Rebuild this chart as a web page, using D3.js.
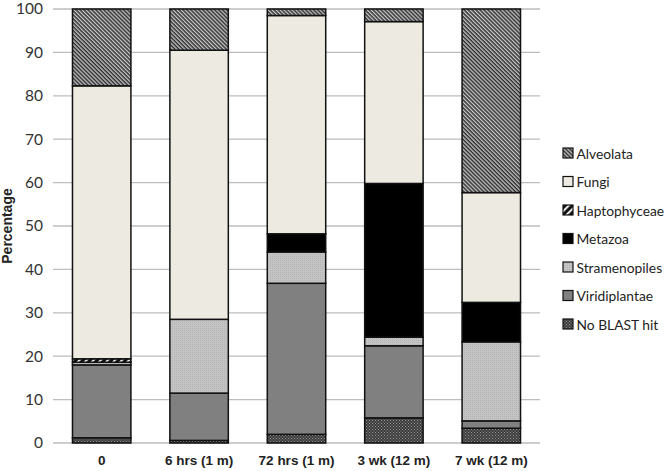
<!DOCTYPE html>
<html>
  <head>
    <meta charset="utf-8" />
    <title>Stacked percentages</title>
    <script src="https://d3js.org/d3.v7.min.js"></script>
    <style>
      body { margin: 0; background: #fff; }
    </style>
  </head>
  <body>
    <svg width="666" height="471" id="chart"></svg>
    <script>
      // sample groups on the x axis
      var categories = ["0", "6 hrs (1 m)", "72 hrs (1 m)", "3 wk (12 m)", "7 wk (12 m)"];
      // stack order, bottom to top
      var groups = ["No BLAST hit", "Viridiplantae", "Stramenopiles", "Metazoa", "Haptophyceae", "Fungi", "Alveolata"];
      // percentages per group, one value per category
      var noBlast       = [1.2, 0.6, 2.0, 5.8, 3.4];
      var viridiplantae = [16.8, 10.9, 34.8, 16.6, 1.7];
      var stramenopiles = [0.6, 17.0, 7.2, 2.0, 18.2];
      var metazoa       = [0, 0, 4.2, 35.4, 9.1];
      var haptophyceae  = [0.8, 0, 0, 0, 0];
      var fungi         = [62.9, 62.0, 50.3, 37.3, 25.3];
      var alveolata     = [17.7, 9.5, 1.5, 2.9, 42.3];
      var yTicks = [0, 10, 20, 30, 40, 50, 60, 70, 80, 90, 100];

      var seriesValues = [noBlast, viridiplantae, stramenopiles, metazoa, haptophyceae, fungi, alveolata];
      var rows = categories.map(function(c, i){
        var r = {cat: c};
        groups.forEach(function(g, j){ r[g] = seriesValues[j][i]; });
        return r;
      });

      var svg = d3.select("#chart");
      var margin = {left: 53, right: 126, top: 9, bottom: 28};
      var W = 666, H = 471;

      // fill patterns
      var defs = svg.append("defs");
      var alv = defs.append("pattern").attr("id", "p-alv").attr("width", 2.8).attr("height", 2.8)
        .attr("patternUnits", "userSpaceOnUse").attr("patternTransform", "rotate(45)");
      alv.append("rect").attr("width", 2.8).attr("height", 2.8).attr("fill", "#c8c8c8");
      alv.append("rect").attr("width", 2.8).attr("height", 1.5).attr("fill", "#303030");

      var hap = defs.append("pattern").attr("id", "p-hap").attr("width", 5).attr("height", 5)
        .attr("patternUnits", "userSpaceOnUse").attr("patternTransform", "rotate(-45)");
      hap.append("rect").attr("width", 5).attr("height", 5).attr("fill", "#111");
      hap.append("rect").attr("width", 5).attr("height", 1.8).attr("fill", "#fff");

      var nob = defs.append("pattern").attr("id", "p-nob").attr("width", 3).attr("height", 3)
        .attr("patternUnits", "userSpaceOnUse");
      nob.append("rect").attr("width", 3).attr("height", 3).attr("fill", "#3a3a3a");
      nob.append("rect").attr("width", 1).attr("height", 1).attr("fill", "#999");
      nob.append("rect").attr("x", 1.5).attr("y", 1.5).attr("width", 1).attr("height", 1).attr("fill", "#999");

      var str = defs.append("pattern").attr("id", "p-str").attr("width", 2).attr("height", 2)
        .attr("patternUnits", "userSpaceOnUse");
      str.append("rect").attr("width", 2).attr("height", 2).attr("fill", "#c4c4c4");
      str.append("rect").attr("width", 1).attr("height", 1).attr("fill", "#b4b4b4");

      var fills = {
        "Alveolata": "url(#p-alv)",
        "Fungi": "#edebe1",
        "Haptophyceae": "url(#p-hap)",
        "Metazoa": "#000",
        "Stramenopiles": "url(#p-str)",
        "Viridiplantae": "#808080",
        "No BLAST hit": "url(#p-nob)"
      };

      var x = d3.scaleBand().domain(categories)
        .range([margin.left, 540]).paddingInner(0.4).paddingOuter(0.2);
      var y = d3.scaleLinear().domain([0, 100]).range([H - margin.bottom, margin.top]);

      // gridlines
      svg.append("g").selectAll("line").data(yTicks).enter().append("line")
        .attr("x1", margin.left).attr("x2", 540)
        .attr("y1", function(d){ return y(d); }).attr("y2", function(d){ return y(d); })
        .attr("stroke", "#bdbdbd").attr("stroke-width", 1.3);

      // y axis labels
      var yAxis = d3.axisLeft(y).tickValues(yTicks).tickSize(0).tickPadding(10);
      var ya = svg.append("g").attr("transform", "translate(" + margin.left + ",0)").call(yAxis);
      ya.select(".domain").remove();
      ya.selectAll("text").attr("font-family", "Lato, sans-serif").attr("font-size", 15.5).attr("fill", "#333");

      svg.append("text")
        .attr("transform", "translate(12," + y(50) + ") rotate(-90)")
        .attr("text-anchor", "middle")
        .attr("font-family", "Liberation Sans, Arial, sans-serif")
        .attr("font-weight", "bold").attr("font-size", 14)
        .attr("fill", "#222")
        .text("Percentage");

      // bars
      var stack = d3.stack().keys(groups)(rows);
      svg.append("g").selectAll("g").data(stack).enter().append("g")
        .attr("fill", function(d){ return fills[d.key]; })
        .selectAll("rect").data(function(d){ return d; }).enter().append("rect")
        .filter(function(d){ return d[1] - d[0] > 0; })
        .attr("x", function(d){ return x(d.data.cat); })
        .attr("width", x.bandwidth())
        .attr("y", function(d){ return y(d[1]); })
        .attr("height", function(d){ return y(d[0]) - y(d[1]); })
        .attr("stroke", "#111").attr("stroke-width", 1.5);

      // x labels
      var xAxis = d3.axisBottom(x).tickSize(0).tickPadding(12);
      var xa = svg.append("g").attr("transform", "translate(0," + y(0) + ")").call(xAxis);
      xa.select(".domain").remove();
      xa.selectAll("text").attr("font-family", "Liberation Sans, Arial, sans-serif")
        .attr("font-weight", "bold").attr("font-size", 13.5).attr("fill", "#222");

      // legend, top to bottom reversed
      var legendItems = groups.slice().reverse();
      var lg = svg.append("g").selectAll("g").data(legendItems).enter().append("g")
        .attr("transform", function(d, i){ return "translate(563," + (153 + i * 28.5) + ")"; });
      lg.append("rect").attr("x", 0).attr("y", -5).attr("width", 10).attr("height", 10)
        .attr("fill", function(d){ return fills[d]; })
        .attr("stroke", "#111").attr("stroke-width", 1.2);
      lg.append("text").attr("x", 13.5).attr("y", 5.5)
        .attr("font-family", "Lato, sans-serif").attr("font-size", 13.8).attr("fill", "#222")
        .text(function(d){ return d; });
    </script>
  </body>
</html>
